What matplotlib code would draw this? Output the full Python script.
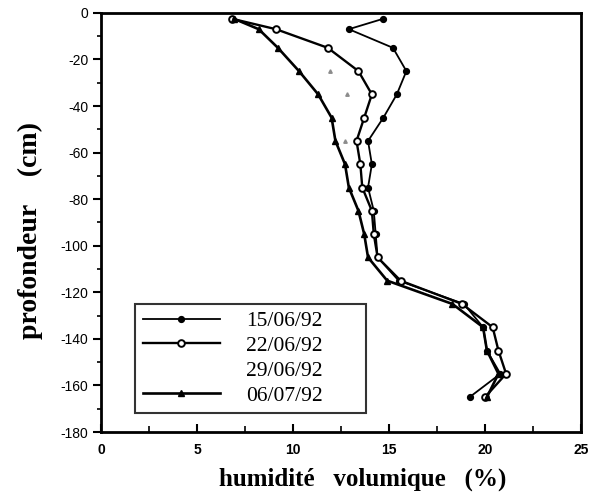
import matplotlib
matplotlib.use("Agg")
import matplotlib.pyplot as plt
from matplotlib.lines import Line2D
from matplotlib.ticker import MultipleLocator

plt.rcParams['axes.unicode_minus'] = False

# depth of the probe readings (cm)
depth = [-2.5, -7, -15, -25, -35, -45, -55, -65, -75, -85,
         -95, -105, -115, -125, -135, -145, -155, -165]

# volumetric moisture (%) for each campaign
h_1506 = [14.7, 12.9, 15.2, 15.9, 15.4, 14.7, 13.9, 14.1, 13.9, 14.2,
          14.3, 14.4, 15.5, 18.9, 19.9, 20.1, 20.8, 19.2]
h_2206 = [6.8, 9.1, 11.8, 13.4, 14.1, 13.7, 13.3, 13.5, 13.6, 14.1,
          14.2, 14.4, 15.6, 18.8, 20.4, 20.7, 21.1, 20.0]
h_0607 = [6.9, 8.2, 9.2, 10.3, 11.3, 12.0, 12.2, 12.7, 12.9, 13.4,
          13.7, 13.9, 14.9, 18.3, 19.9, 20.1, 20.7, 20.1]
# 29/06 is barely printed: only a few faint marks are visible
depth_2906 = [-25, -35, -55]
h_2906 = [11.9, 12.8, 12.7]

labels = ['15/06/92', '22/06/92', '29/06/92', '06/07/92']

fig = plt.figure(figsize=(5.97, 4.96), dpi=100)
ax = fig.add_axes([0.170, 0.129, 0.803, 0.845])

l1, = ax.plot(h_1506, depth, '-', color='black', lw=1.3, marker='o', ms=4.2,
              mfc='black', mec='black')
l2, = ax.plot(h_2206, depth, '-', color='black', lw=1.7, marker='o', ms=4.8,
              mfc='white', mec='black', mew=1.4)
ax.plot(h_2906, depth_2906, ls='none', marker='^', ms=2.5, color='0.55')
l4, = ax.plot(h_0607, depth, '-', color='black', lw=1.9, marker='^', ms=5,
              mfc='black', mec='black')
# the 29/06 key has no visible symbol in the original
l3 = Line2D([], [], ls='none', marker='none')

ax.set_xlim(0, 25)
ax.set_ylim(-180, 0)
ax.xaxis.set_major_locator(MultipleLocator(5))
ax.xaxis.set_minor_locator(MultipleLocator(2.5))
ax.yaxis.set_major_locator(MultipleLocator(20))
ax.yaxis.set_minor_locator(MultipleLocator(10))

ax.tick_params(axis='x', which='both', direction='in', top=False, pad=8)
ax.tick_params(axis='x', which='major', length=6, width=1.5)
ax.tick_params(axis='x', which='minor', length=4, width=1.2)
ax.tick_params(axis='y', which='both', direction='out', right=False)
ax.tick_params(axis='y', which='major', length=6, width=1.5)
ax.tick_params(axis='y', which='minor', length=3, width=1.2)
for s in ax.spines.values():
    s.set_linewidth(2)

for t in ax.get_xticklabels():
    t.set_family('Liberation Sans')
    t.set_fontweight('bold')
    t.set_fontsize(10)
for t in ax.get_yticklabels():
    t.set_family('Liberation Sans')
    t.set_fontsize(10)

ax.set_xlabel('humidité   volumique   (%)', family='Liberation Serif',
              fontweight='bold', fontsize=18)
ax.xaxis.set_label_coords(0.545, -0.085)
ax.set_ylabel('profondeur    (cm)', family='Liberation Serif',
              fontweight='bold', fontsize=20)
ax.yaxis.set_label_coords(-0.122, 0.48)

leg = ax.legend([l1, l2, l3, l4], labels,
                loc='lower left', bbox_to_anchor=(0.07, 0.045, 0.482, 0.265),
                mode='expand', borderaxespad=0, fancybox=False,
                handlelength=3.6, handletextpad=1.2, labelspacing=0.22,
                borderpad=0.35,
                prop={'family': 'Liberation Serif', 'size': 15.5})
leg.get_frame().set_edgecolor('black')
leg.get_frame().set_linewidth(1.5)

fig.savefig('out.png', dpi=100)
